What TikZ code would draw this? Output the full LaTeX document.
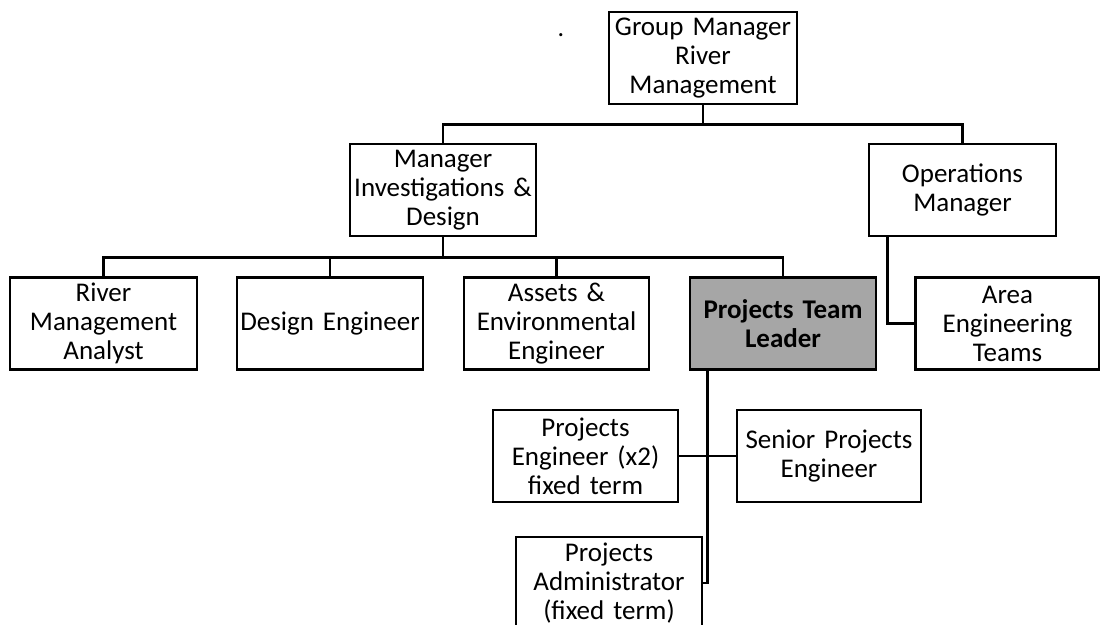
\documentclass[tikz,border=0pt]{standalone}
\usepackage{fontspec}
\setmainfont[WordSpace=0.55]{Carlito}
\usetikzlibrary{calc}
\begin{document}
\begin{tikzpicture}[x=1pt,y=-1pt,
  line width=2.7pt,
  post/.style={draw=black, rectangle, align=center, inner sep=0pt,
    font=\fontsize{27}{29}\selectfont, minimum height=92, text width=184},
  lead/.style={post, fill=black!35, font=\fontsize{27}{29}\selectfont\bfseries},
  link/.style={draw=black, line width=2.7pt}]
\useasboundingbox (0,0) rectangle (1100,624);

% top of the hierarchy
\node[post, minimum width=188] (gm) at (703,58) {Group Manager\\River\\Management};
\node[font=\fontsize{26}{29}\selectfont] (dot) at (561,35) {.};

% second level
\node[post, minimum width=186] (mid) at (443,190) {Manager\\Investigations \&\\Design};
\node[post, minimum width=187] (ops) at (962.5,190) {Operations\\Manager};

% third level
\node[post, minimum width=187] (rma) at (103.5,323.5) {River\\Management\\Analyst};
\node[post, minimum width=186] (de)  at (330,323.5) {Design Engineer};
\node[post, minimum width=185] (aee) at (556.5,323.5) {Assets \&\\Environmental\\Engineer};
\node[lead, minimum width=186] (ptl) at (783,323.5) {Projects Team\\Leader};
\node[post, minimum width=184] (aet) at (1007.5,323.5) {Area\\Engineering\\Teams};

% project team
\node[post, minimum width=185] (pe)  at (585.5,456) {Projects\\Engineer (x2)\\fixed term};
\node[post, minimum width=184] (spe) at (829,456) {Senior Projects\\Engineer};
\node[post, minimum width=186] (pa)  at (609,583) {Projects\\Administrator\\(fixed term)};

% connectors
\draw[link] (gm.south) -- ++(0,19) coordinate (gmbus) -| (mid.north);
\draw[link] (gmbus) -| (ops.north);

\draw[link] (mid.south) -- ++(0,20) coordinate (midbus) -| (rma.north);
\draw[link] (midbus) -| (de.north);
\draw[link] (midbus) -| (aee.north);
\draw[link] (midbus) -| (ptl.north);

\draw[link] ($(ops.south west)+(20,0)$) |- (aet.west);

\draw[link] ($(ptl.south west)+(19,0)$) |- (pa.east);
\draw[link] (pe.east) -- (spe.west);
\end{tikzpicture}
\end{document}
